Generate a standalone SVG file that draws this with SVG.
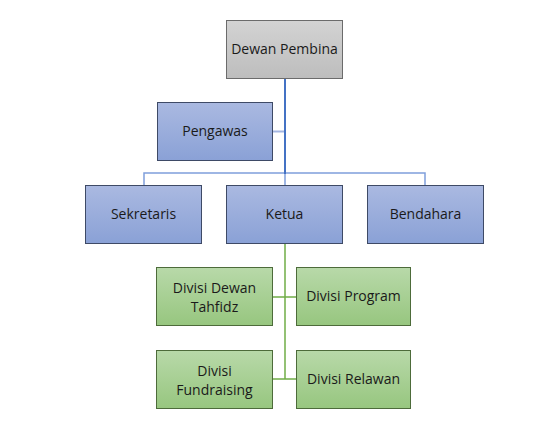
<svg xmlns="http://www.w3.org/2000/svg" width="560" height="448" viewBox="0 0 560 448">
<defs>
<linearGradient id="gGrey" x1="0" y1="0" x2="0" y2="1"><stop offset="0" stop-color="#d3d3d3"/><stop offset="1" stop-color="#bdbdbd"/></linearGradient>
<linearGradient id="gBlue" x1="0" y1="0" x2="0" y2="1"><stop offset="0" stop-color="#aab9e1"/><stop offset="1" stop-color="#8aa1d6"/></linearGradient>
<linearGradient id="gGreen" x1="0" y1="0" x2="0" y2="1"><stop offset="0" stop-color="#b8d9a9"/><stop offset="1" stop-color="#97c67f"/></linearGradient>
</defs>
<style>
text{font-family:"Open Sans","Liberation Sans",sans-serif;font-size:14px;fill:#1a1a1a;text-anchor:middle}
.grey{fill:url(#gGrey);stroke:#6b6b6b;stroke-width:1}
.blue{fill:url(#gBlue);stroke:#3e4a66;stroke-width:1}
.green{fill:url(#gGreen);stroke:#4d6b3a;stroke-width:1}
.c1{stroke:#4472c4;stroke-width:2;fill:none}
.c2{stroke:#7f9fdb;stroke-width:1.5;fill:none}
.c3{stroke:#a4b6e2;stroke-width:2;fill:none}
.cg{stroke:#70ad47;stroke-width:1.5;fill:none}
</style>
<rect width="560" height="448" fill="#ffffff"/>
<g id="connectors">
<path class="c3" d="M273 131.5H285"/>
<path class="c2" d="M144 185V173H425V185M285 173V185"/>
<path class="c1" d="M285 78V174"/>
<path class="cg" d="M285 243V379M273 297H297M273 379H297"/>
</g>
<g id="dewan-pembina"><rect class="grey" x="226.5" y="20.5" width="116" height="58"/><text x="284.5" y="54">Dewan Pembina</text></g>
<g id="pengawas"><rect class="blue" x="157.5" y="102.5" width="115" height="58"/><text x="215" y="136">Pengawas</text></g>
<g id="sekretaris"><rect class="blue" x="85.5" y="185.5" width="116" height="58"/><text x="143.5" y="219">Sekretaris</text></g>
<g id="ketua"><rect class="blue" x="226.5" y="185.5" width="116" height="58"/><text x="284.5" y="219">Ketua</text></g>
<g id="bendahara"><rect class="blue" x="367.5" y="185.5" width="116" height="58"/><text x="425.5" y="219">Bendahara</text></g>
<g id="divisi-dewan-tahfidz"><rect class="green" x="156.5" y="267.5" width="116" height="58"/><text x="214.5" y="293">Divisi Dewan</text><text x="214.5" y="312">Tahfidz</text></g>
<g id="divisi-program"><rect class="green" x="296.5" y="267.5" width="114" height="58"/><text x="353.5" y="301">Divisi Program</text></g>
<g id="divisi-fundraising"><rect class="green" x="156.5" y="350.5" width="116" height="58"/><text x="214.5" y="376">Divisi</text><text x="214.5" y="395">Fundraising</text></g>
<g id="divisi-relawan"><rect class="green" x="296.5" y="350.5" width="114" height="58"/><text x="353.5" y="384">Divisi Relawan</text></g>
</svg>
